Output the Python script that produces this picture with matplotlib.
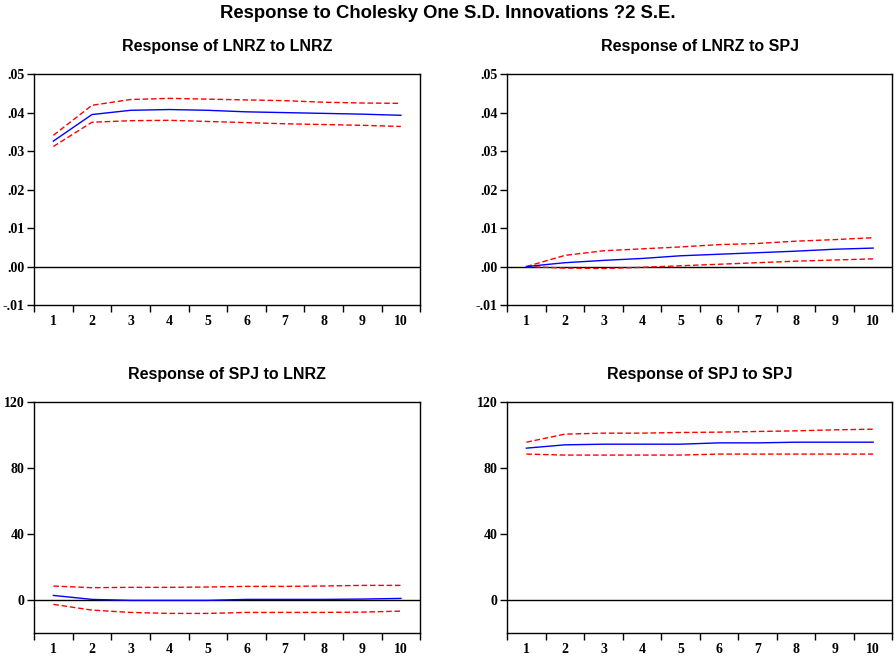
import numpy as np
import matplotlib.pyplot as plt
from matplotlib.ticker import FuncFormatter

# impulse responses (periods 1..10)
periods = np.arange(1, 11)

lnrz_lnrz = [0.0326, 0.0395, 0.0406, 0.0408, 0.0406, 0.0402, 0.0400, 0.0398, 0.0396, 0.0393]
lnrz_lnrz_hi = [0.0341, 0.0419, 0.0434, 0.0437, 0.0435, 0.0433, 0.0431, 0.0427, 0.0425, 0.0424]
lnrz_lnrz_lo = [0.0312, 0.0375, 0.0379, 0.0380, 0.0377, 0.0374, 0.0371, 0.0369, 0.0367, 0.0364]

lnrz_spj = [0.0, 0.0010, 0.0016, 0.0021, 0.0028, 0.0032, 0.0036, 0.0040, 0.0045, 0.0048]
lnrz_spj_hi = [0.0, 0.0029, 0.0041, 0.0046, 0.0051, 0.0057, 0.0060, 0.0066, 0.0070, 0.0075]
lnrz_spj_lo = [0.0, -0.0004, -0.0005, -0.0002, 0.0002, 0.0006, 0.0010, 0.0014, 0.0017, 0.0020]

spj_lnrz = [2.8, 0.4, -0.2, -0.2, -0.2, 0.4, 0.4, 0.4, 0.6, 1.0]
spj_lnrz_hi = [8.5, 7.5, 7.7, 7.7, 7.9, 8.3, 8.3, 8.5, 8.9, 8.9]
spj_lnrz_lo = [-2.6, -6.1, -7.5, -8.1, -8.1, -7.5, -7.5, -7.5, -7.3, -6.7]

spj_spj = [92.1, 94.1, 94.5, 94.5, 94.5, 95.3, 95.3, 95.7, 95.7, 95.7]
spj_spj_hi = [95.7, 100.6, 101.2, 101.2, 101.6, 101.8, 102.2, 102.6, 103.2, 103.6]
spj_spj_lo = [88.5, 87.9, 87.9, 87.9, 87.9, 88.5, 88.5, 88.5, 88.5, 88.5]

titles = ['Response of LNRZ to LNRZ', 'Response of LNRZ to SPJ',
          'Response of SPJ to LNRZ', 'Response of SPJ to SPJ']

title_font = ['Liberation Sans', 'DejaVu Sans']
tick_font = ['Liberation Serif', 'DejaVu Serif']


def dot_fmt(v, pos):
    s = '%.2f' % v
    s = s.replace('0.', '.', 1)
    if s == '-.00':
        s = '.00'
    return s


fig = plt.figure(figsize=(8.96, 6.56), dpi=100)

panels = [
    (lnrz_lnrz, lnrz_lnrz_hi, lnrz_lnrz_lo),
    (lnrz_spj, lnrz_spj_hi, lnrz_spj_lo),
    (spj_lnrz, spj_lnrz_hi, spj_lnrz_lo),
    (spj_spj, spj_spj_hi, spj_spj_lo),
]
rects = [
    [0.038, 0.535, 0.431, 0.352],
    [0.566, 0.535, 0.430, 0.352],
    [0.038, 0.035, 0.431, 0.352],
    [0.566, 0.035, 0.430, 0.352],
]

for i in range(4):
    ax = fig.add_axes(rects[i])
    mid, hi, lo = panels[i]
    ax.plot(periods, hi, color='red', lw=1, ls=(0, (4, 2)))
    ax.plot(periods, lo, color='red', lw=1, ls=(0, (4, 2)))
    ax.plot(periods, mid, color='blue', lw=1)
    ax.axhline(0, color='black', lw=1, zorder=0)

    ax.set_xlim(0.5, 10.5)
    ax.set_xticks(np.arange(0.5, 11, 1))
    ax.set_xticklabels([])
    ax.set_xticks(periods, minor=True)
    ax.set_xticklabels([str(p) for p in periods], minor=True,
                       fontfamily=tick_font, fontweight='bold', fontsize=10)
    ax.tick_params(axis='x', which='major', direction='out', length=5, width=1)
    ax.tick_params(axis='x', which='minor', length=0, pad=7)

    if i < 2:
        ax.set_ylim(-0.01, 0.05)
        ax.set_yticks([-0.01, 0.0, 0.01, 0.02, 0.03, 0.04, 0.05])
        ax.yaxis.set_major_formatter(FuncFormatter(dot_fmt))
    else:
        ax.set_ylim(-20, 120)
        ax.set_yticks([0, 40, 80, 120])
    ax.tick_params(axis='y', direction='out', length=5, width=1, pad=2)
    for lab in ax.get_yticklabels():
        lab.set_fontfamily(tick_font)
        lab.set_fontweight('bold')
        lab.set_fontsize(10)

    for sp in ax.spines.values():
        sp.set_linewidth(1)

    ax.set_title(titles[i], fontfamily=title_font, fontweight='bold',
                 fontsize=11.5, pad=17)

fig.text(0.5, 0.979, 'Response to Cholesky One S.D. Innovations ?2 S.E.',
         ha='center', va='center', fontfamily=title_font, fontweight='bold',
         fontsize=13.3)

plt.savefig('out.png', dpi=100)
